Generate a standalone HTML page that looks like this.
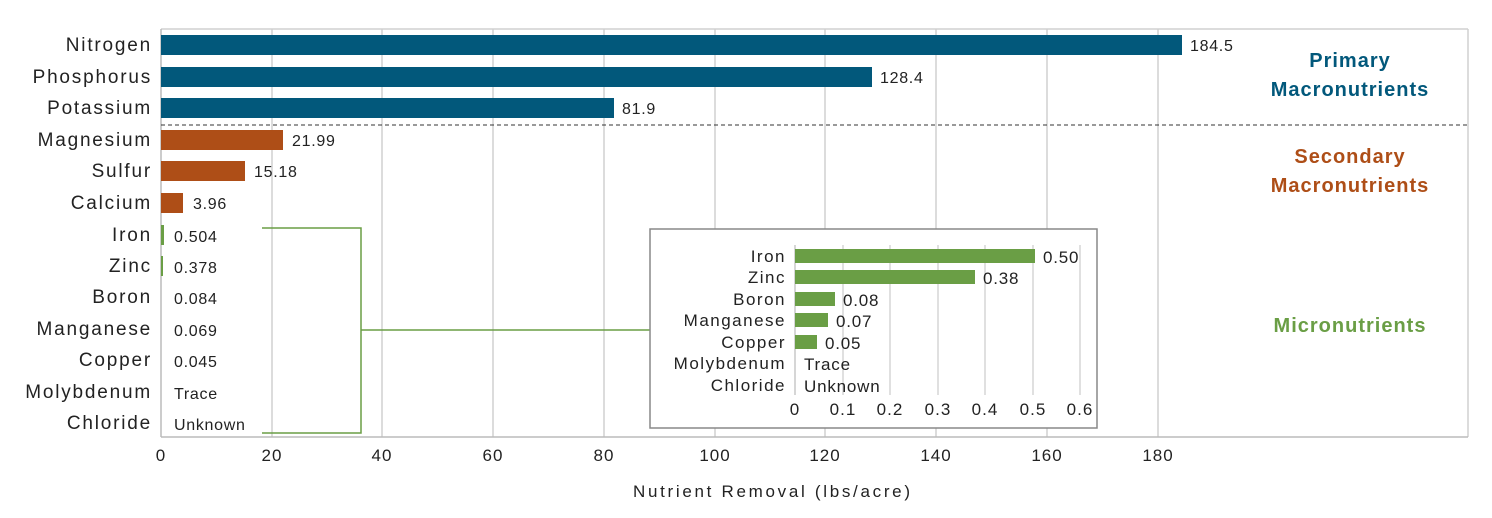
<!DOCTYPE html><html><head><style>body{margin:0;background:#fff}</style></head><body>
<svg width="1492" height="513" xmlns="http://www.w3.org/2000/svg" font-family="Liberation Sans, sans-serif">
<rect width="1492" height="513" fill="#fff"/>
<g stroke="#d0d0d0" stroke-width="1.5">
<line x1="161" y1="29" x2="1468" y2="29"/>
<line x1="1468" y1="29" x2="1468" y2="437"/>
<line x1="272" y1="29" x2="272" y2="437"/><line x1="382" y1="29" x2="382" y2="437"/><line x1="493" y1="29" x2="493" y2="437"/><line x1="604" y1="29" x2="604" y2="437"/><line x1="715" y1="29" x2="715" y2="437"/><line x1="825" y1="29" x2="825" y2="437"/><line x1="936" y1="29" x2="936" y2="437"/><line x1="1047" y1="29" x2="1047" y2="437"/><line x1="1158" y1="29" x2="1158" y2="437"/>
</g>
<line x1="161" y1="437" x2="1468" y2="437" stroke="#bbb" stroke-width="1.5"/>
<line x1="161" y1="29" x2="161" y2="437" stroke="#bbb" stroke-width="1.5"/>
<line x1="161" y1="125" x2="1468" y2="125" stroke="#333" stroke-dasharray="4,3"/>
<g fill="#02587b"><rect x="161" y="35" width="1021" height="20"/><rect x="161" y="67" width="711" height="20"/><rect x="161" y="98" width="453" height="20"/></g>
<g fill="#ae4e17"><rect x="161" y="130" width="122" height="20"/><rect x="161" y="161" width="84" height="20"/><rect x="161" y="193" width="22" height="20"/></g>
<g fill="#6a9e45"><rect x="161" y="225" width="3" height="20"/><rect x="161" y="256" width="2" height="20"/></g>
<g font-size="19" fill="#222" text-anchor="end" letter-spacing="1.8">
<text x="152" y="51">Nitrogen</text><text x="152" y="83">Phosphorus</text><text x="152" y="114">Potassium</text><text x="152" y="146">Magnesium</text><text x="152" y="177">Sulfur</text><text x="152" y="209">Calcium</text><text x="152" y="241">Iron</text><text x="152" y="272">Zinc</text><text x="152" y="303">Boron</text><text x="152" y="335">Manganese</text><text x="152" y="366">Copper</text><text x="152" y="398">Molybdenum</text><text x="152" y="429">Chloride</text>
</g>
<g font-size="16" fill="#222" letter-spacing="0.7">
<text x="1190" y="51">184.5</text><text x="880" y="83">128.4</text><text x="622" y="114">81.9</text><text x="292" y="146">21.99</text><text x="254" y="177">15.18</text><text x="193" y="209">3.96</text><text x="174" y="242">0.504</text><text x="174" y="273">0.378</text><text x="174" y="304">0.084</text><text x="174" y="336">0.069</text><text x="174" y="367">0.045</text><text x="174" y="399">Trace</text><text x="174" y="430">Unknown</text>
</g>
<g font-size="17" fill="#222" text-anchor="middle" letter-spacing="1">
<text x="161" y="461">0</text><text x="272" y="461">20</text><text x="382" y="461">40</text><text x="493" y="461">60</text><text x="604" y="461">80</text><text x="715" y="461">100</text><text x="825" y="461">120</text><text x="936" y="461">140</text><text x="1047" y="461">160</text><text x="1158" y="461">180</text>
</g>
<text x="633" y="497" font-size="17" fill="#222" textLength="277" lengthAdjust="spacing">Nutrient Removal (lbs/acre)</text>
<g font-size="20" font-weight="bold" text-anchor="middle" letter-spacing="1">
<text x="1350" y="67" fill="#02587b">Primary</text><text x="1350" y="96" fill="#02587b">Macronutrients</text>
<text x="1350" y="163" fill="#ae4e17">Secondary</text><text x="1350" y="192" fill="#ae4e17">Macronutrients</text>
<text x="1350" y="332" fill="#6a9e45">Micronutrients</text>
</g>
<g stroke="#6a9e45" stroke-width="1.5" fill="none">
<polyline points="262,228 361,228 361,433 262,433"/><line x1="361" y1="330" x2="650" y2="330"/>
</g>
<rect x="650" y="229" width="447" height="199" fill="#fff" stroke="#888" stroke-width="1.5"/>
<g stroke="#ccc" stroke-width="1.2">
<line x1="890" y1="245" x2="890" y2="395"/><line x1="938" y1="245" x2="938" y2="395"/><line x1="985" y1="245" x2="985" y2="395"/><line x1="1033" y1="245" x2="1033" y2="395"/><line x1="1080" y1="245" x2="1080" y2="395"/><line x1="843" y1="245" x2="843" y2="395"/>
</g>
<line x1="795" y1="245" x2="795" y2="395" stroke="#bbb" stroke-width="1.2"/>
<g fill="#6a9e45"><rect x="795" y="249" width="240" height="14"/><rect x="795" y="270" width="180" height="14"/><rect x="795" y="292" width="40" height="14"/><rect x="795" y="313" width="33" height="14"/><rect x="795" y="335" width="22" height="14"/></g>
<g font-size="17" fill="#222" text-anchor="end" letter-spacing="1.5">
<text x="786" y="262">Iron</text><text x="786" y="283">Zinc</text><text x="786" y="305">Boron</text><text x="786" y="326">Manganese</text><text x="786" y="348">Copper</text><text x="786" y="369">Molybdenum</text><text x="786" y="391">Chloride</text>
</g>
<g font-size="17" fill="#222" letter-spacing="0.8">
<text x="1043" y="263">0.50</text><text x="983" y="284">0.38</text><text x="843" y="306">0.08</text><text x="836" y="327">0.07</text><text x="825" y="349">0.05</text><text x="804" y="370">Trace</text><text x="804" y="392">Unknown</text>
</g>
<g font-size="17" fill="#222" text-anchor="middle" letter-spacing="1">
<text x="795" y="415">0</text><text x="843" y="415">0.1</text><text x="890" y="415">0.2</text><text x="938" y="415">0.3</text><text x="985" y="415">0.4</text><text x="1033" y="415">0.5</text><text x="1080" y="415">0.6</text>
</g>
</svg>
</body></html>
